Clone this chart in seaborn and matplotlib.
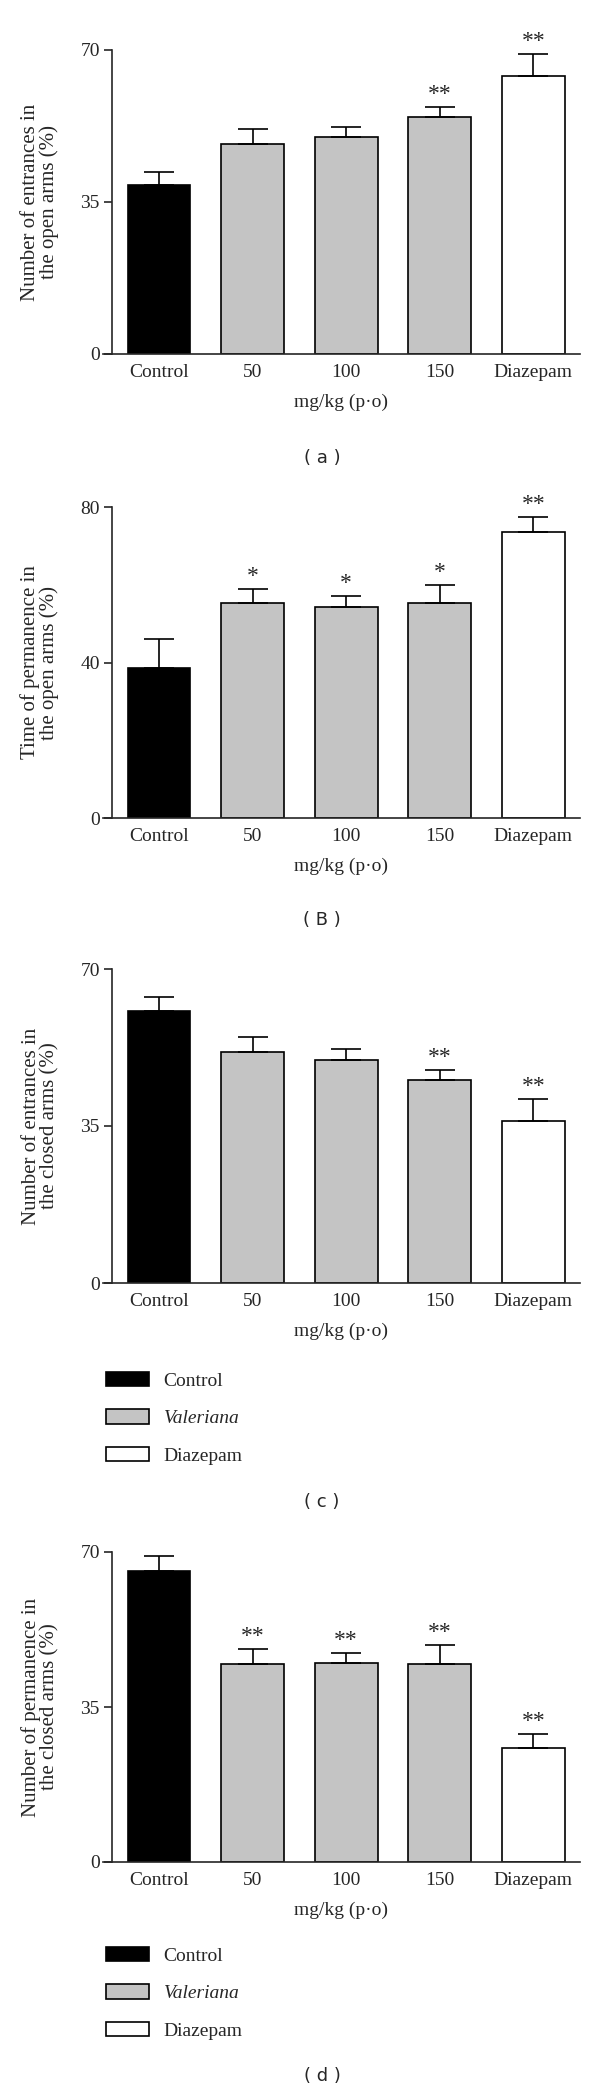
import numpy as np
import pandas as pd
import matplotlib
matplotlib.use("Agg")
import matplotlib.pyplot as plt
import seaborn as sns
from matplotlib.patches import Patch

# ---------------- data ----------------
categories = ["Control", "50", "100", "150", "Diazepam"]

a_means = [39.0, 48.4, 49.9, 54.6, 64.0]
a_errs = [2.9, 3.4, 2.3, 2.3, 5.0]
a_stars = ["", "", "", "**", "**"]

b_means = [38.5, 55.3, 54.4, 55.3, 73.6]
b_errs = [7.5, 3.7, 2.6, 4.7, 3.7]
b_stars = ["", "*", "*", "*", "**"]

c_means = [60.6, 51.5, 49.8, 45.2, 36.1]
c_errs = [3.1, 3.3, 2.3, 2.3, 4.9]
c_stars = ["", "", "", "**", "**"]

d_means = [65.8, 44.7, 44.9, 44.7, 25.8]
d_errs = [3.3, 3.3, 2.4, 4.2, 3.2]
d_stars = ["", "**", "**", "**", "**"]

a_ticks = [0, 35, 70]
b_ticks = [0, 40, 80]
c_ticks = [0, 35, 70]
d_ticks = [0, 35, 70]

a_ylabel = "Number of entrances in\nthe open arms (%)"
b_ylabel = "Time of permanence in\nthe open arms (%)"
c_ylabel = "Number of entrances in\nthe closed arms (%)"
d_ylabel = "Number of permanence in\nthe closed arms (%)"
xlabel_text = "mg/kg (p\u00b7o)"
captions = ["( a )", "( B )", "( c )", "( d )"]
legend_labels = ["Control", "Valeriana", "Diazepam"]

# ---------------- style ----------------
sns.set_style("ticks")
SERIF = ["Liberation Serif", "DejaVu Serif"]
plt.rcParams["font.family"] = SERIF
plt.rcParams["axes.linewidth"] = 1.2

BLACK = "#000000"
GRAY = "#c4c4c4"
WHITE = "#ffffff"
bar_colors = [BLACK, GRAY, GRAY, GRAY, WHITE]

FIG_W, FIG_H = 600, 2092
fig = plt.figure(figsize=(FIG_W / 100, FIG_H / 100), dpi=100)

left_px, right_px = 103, 580
panels = [
    # means, errs, stars, ticks, ylabel, y_top_px, y_zero_px, caption_px
    (a_means, a_errs, a_stars, a_ticks, a_ylabel, 50, 354, 458),
    (b_means, b_errs, b_stars, b_ticks, b_ylabel, 507, 818, 920),
    (c_means, c_errs, c_stars, c_ticks, c_ylabel, 969, 1283, 1502),
    (d_means, d_errs, d_stars, d_ticks, d_ylabel, 1552, 1862, 2076),
]

TICK_FS = 14
LABEL_FS = 15
for idx, (means, errs, stars, ticks, ylabel, ytop, yzero, cap_px) in enumerate(panels):
    ax = fig.add_axes([left_px / FIG_W, 1 - yzero / FIG_H,
                       (right_px - left_px) / FIG_W, (yzero - ytop) / FIG_H])
    df = pd.DataFrame({"group": categories, "value": means})
    sns.barplot(data=df, x="group", y="value", hue="group", order=categories,
                hue_order=categories, palette=bar_colors, legend=False,
                width=0.67, edgecolor="black", linewidth=1.2, errorbar=None,
                saturation=1, ax=ax)
    x = np.arange(len(categories))
    ax.errorbar(x, means, yerr=[np.zeros(len(errs)), errs], fmt="none",
                ecolor="black", elinewidth=1.2, capsize=11, capthick=1.2,
                zorder=1)
    for xi, m, e, s in zip(x, means, errs, stars):
        if s:
            ax.annotate(s, xy=(xi, m + e), xytext=(0, 9), textcoords="offset points",
                        ha="center", va="center", fontsize=17,
                        annotation_clip=False)
    ax.set_xlim(-0.6, 4.5)
    ax.set_ylim(ticks[0], ticks[-1])
    ax.set_yticks(ticks)
    ax.set_yticklabels([str(t) for t in ticks])
    ax.spines["top"].set_visible(False)
    ax.spines["right"].set_visible(False)
    ax.spines["left"].set_position(("data", -0.5))
    ax.tick_params(axis="y", direction="out", length=6, width=1.2,
                   labelsize=TICK_FS, pad=3)
    ax.tick_params(axis="x", length=0, labelsize=TICK_FS, pad=7)
    ax.set_xlabel(xlabel_text, fontsize=TICK_FS, labelpad=9)
    ax.set_ylabel(ylabel, fontsize=LABEL_FS, linespacing=0.95)
    ax.yaxis.set_label_coords(-0.092, 0.5)
    fig.text(322 / FIG_W, 1 - cap_px / FIG_H,
             captions[idx], ha="center", va="center", fontsize=13,
             family="DejaVu Sans")

    if idx in (2, 3):
        handles = [Patch(facecolor=BLACK, edgecolor="black", linewidth=1.2),
                   Patch(facecolor=GRAY, edgecolor="black", linewidth=1.2),
                   Patch(facecolor=WHITE, edgecolor="black", linewidth=1.2)]
        leg_top_px = (1380 if idx == 2 else 1955) - 8
        leg = fig.legend(handles, legend_labels, loc="upper left",
                         bbox_to_anchor=(106 / FIG_W, 1 - leg_top_px / FIG_H),
                         frameon=False, fontsize=TICK_FS, handlelength=2.2,
                         handleheight=0.77, handletextpad=0.77,
                         labelspacing=1.0, borderaxespad=0, borderpad=0)
        leg.get_texts()[1].set_style("italic")

fig.savefig("out.png", dpi=100)
